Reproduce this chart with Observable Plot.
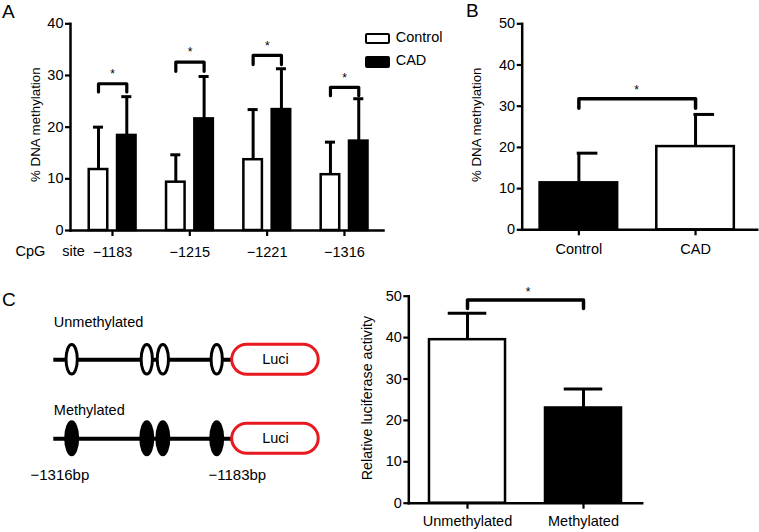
<!DOCTYPE html>
<html><head><meta charset="utf-8">
<script src="https://cdn.jsdelivr.net/npm/d3@7"></script>
<script src="https://cdn.jsdelivr.net/npm/@observablehq/plot@0.6"></script>
<style>
body{margin:0;background:#fff;}
#fig{position:relative;width:759px;height:532px;overflow:hidden;background:#fff;font-family:"Liberation Sans",Arial,Helvetica,sans-serif;color:#000;}
.panel{position:absolute;}
.panel svg{overflow:visible;background:transparent;}
.panel svg [aria-label*="axis"] path,.panel svg [aria-label*="axis"] line{stroke-width:2.2px;}
.panel svg line[aria-label="frame"]{stroke-width:2.5px;}
.lbl{position:absolute;line-height:1;white-space:pre;}
.sw{position:absolute;box-sizing:border-box;border:2.5px solid #000;border-radius:2px;}
</style></head><body><div id="fig"></div>
<script>
// ---------- Panel A data ----------
const sitesA = ["−1183", "−1215", "−1221", "−1316"];
const groupsA = ["Control", "CAD"];
const controlMeanA = [11.8, 9.35, 13.7, 10.8];
const controlErrA = [20.0, 14.65, 23.4, 17.1];
const cadMeanA = [18.4, 21.6, 23.4, 17.3];
const cadErrA = [25.9, 29.8, 31.3, 25.5];
const bracketTopA = [28.4, 32.6, 33.9, 27.7];
const bracketLegA = [26.8, 30.8, 32.1, 26.1];
const yTicksA = [0, 10, 20, 30, 40];

// ---------- Panel B data ----------
const groupsB = ["Control", "CAD"];
const meanB = [11.4, 20.2];
const errB = [18.6, 28.0];
const bracketTopB = [31.8];
const bracketLegB = [29.5];
const yTicksB = [0, 10, 20, 30, 40, 50];

// ---------- Panel C data ----------
const groupsC = ["Unmethylated", "Methylated"];
const meanC = [39.5, 23.0];
const errC = [45.9, 27.6];
const bracketTopC = [49.1];
const bracketLegC = [47.0];
const yTicksC = [0, 10, 20, 30, 40, 50];

// ---------- Panel C construct schematic ----------
const constructs = ["Unmethylated", "Methylated"];
const cpgMapPos = [10.3, 52.4, 61.4, 91.6];   // schematic map units along the promoter backbone (0–100)
const luciSpan = [100, 148.5];
const bpLabels = ["−1316bp", "−1183bp"];

const FONT = '"Liberation Sans", Arial, Helvetica, sans-serif';
const fig = document.getElementById("fig");
function place(el, left, top) {
  const d = document.createElement("div");
  d.className = "panel";
  d.style.left = left + "px"; d.style.top = top + "px";
  d.append(el); fig.append(d);
}
function label(text, left, top, size, extra) {
  const d = document.createElement("div");
  d.className = "lbl"; d.textContent = text;
  d.style.left = left + "px"; d.style.top = top + "px"; d.style.fontSize = size + "px";
  if (extra) Object.assign(d.style, extra);
  fig.append(d);
}
const baseStyle = {fontFamily: FONT, fontSize: "14.5px", background: "transparent", overflow: "visible", color: "black"};

// ================= Panel A =================
{
  const ctrOff = {Control: -0.181, CAD: 0.185};
  const barHalf = 0.136, capHalf = 0.065;
  const rows = sitesA.flatMap((s, i) => [
    {site: s, i, group: "Control", mean: controlMeanA[i], err: controlErrA[i]},
    {site: s, i, group: "CAD", mean: cadMeanA[i], err: cadErrA[i]}
  ]);
  const cx = d => d.i + ctrOff[d.group];
  const brackets = sitesA.flatMap((s, i) => [
    {site: s, x: i + ctrOff.Control, y: bracketLegA[i]},
    {site: s, x: i + ctrOff.Control, y: bracketTopA[i]},
    {site: s, x: i + ctrOff.CAD, y: bracketTopA[i]},
    {site: s, x: i + ctrOff.CAD, y: bracketLegA[i]}
  ]);
  const stars = sitesA.map((s, i) => ({x: i + (ctrOff.Control + ctrOff.CAD) / 2, y: bracketTopA[i]}));
  const p = Plot.plot({
    width: 385, height: 270,
    marginLeft: 70, marginRight: 2, marginTop: 23.3, marginBottom: 40,
    style: baseStyle,
    x: {domain: [-0.543, 3.505], ticks: [0, 1, 2, 3], tickFormat: i => sitesA[i], tickSize: 6, tickPadding: 10, line: true, label: null},
    y: {domain: [0, 40], ticks: yTicksA, tickSize: 5, tickPadding: 2, line: true, label: null},
    marks: [
      Plot.ruleX(rows, {x: cx, y1: "mean", y2: "err", strokeWidth: 3}),
      Plot.ruleY(rows, {y: "err", x1: d => cx(d) - capHalf, x2: d => cx(d) + capHalf, strokeWidth: 3}),
      Plot.rect(rows.filter(d => d.group === "Control"), {x1: d => cx(d) - barHalf, x2: d => cx(d) + barHalf, y1: 0, y2: "mean", fill: "white", stroke: "black", strokeWidth: 2.5, insetLeft: 1.25, insetRight: 1.25}),
      Plot.rect(rows.filter(d => d.group === "CAD"), {x1: d => cx(d) - barHalf, x2: d => cx(d) + barHalf, y1: 0, y2: "mean", fill: "black", stroke: "black", strokeWidth: 2.5, insetLeft: 1.25, insetRight: 1.25}),
      Plot.line(brackets, {x: "x", y: "y", z: "site", strokeWidth: 3.2}),
      Plot.text(stars, {x: "x", y: "y", text: () => "*", fontSize: 12, dy: -9.5}),
      Plot.text(["% DNA methylation"], {frameAnchor: "left", textAnchor: "middle", lineAnchor: "middle", rotate: -90, dx: -34.5, dy: -2.5, text: d => d, fontSize: 13.3}),
      Plot.text(["CpG"], {frameAnchor: "bottom-left", textAnchor: "start", lineAnchor: "middle", dx: -55, dy: 21, text: d => d}),
      Plot.text(["site"], {frameAnchor: "bottom-left", textAnchor: "start", lineAnchor: "middle", dx: -8.3, dy: 21, text: d => d})
    ]
  });
  place(p, 0, 0);
}

// ================= Panel B =================
{
  const rows = groupsB.map((g, i) => ({group: g, mean: meanB[i], err: errB[i]}));
  const bracket = [
    {x: groupsB[0], y: bracketLegB[0]}, {x: groupsB[0], y: bracketTopB[0]},
    {x: groupsB[1], y: bracketTopB[0]}, {x: groupsB[1], y: bracketLegB[0]}
  ];
  const p = Plot.plot({
    width: 319, height: 270,
    marginLeft: 81.7, marginRight: 2.3, marginTop: 23.3, marginBottom: 40.7,
    style: baseStyle,
    x: {type: "band", domain: groupsB, paddingInner: 0.314, paddingOuter: 0.164, align: 0.435, round: false, tickSize: 6, tickPadding: 8, line: true, label: null},
    y: {domain: [0, 50], ticks: yTicksB, tickSize: 5, tickPadding: 2, line: true, label: null},
    marks: [
      Plot.ruleX(rows, {x: "group", y1: "mean", y2: "err", strokeWidth: 3}),
      Plot.tickY(rows, {x: "group", y: "err", strokeWidth: 3, insetLeft: 38.4, insetRight: 21}),
      Plot.barY(rows.filter(d => d.group === "Control"), {x: "group", y: "mean", fill: "black", stroke: "black", strokeWidth: 2.5, insetLeft: 1.25, insetRight: 1.25}),
      Plot.barY(rows.filter(d => d.group === "CAD"), {x: "group", y: "mean", fill: "white", stroke: "black", strokeWidth: 2.5, insetLeft: 1.25, insetRight: 1.25}),
      Plot.line(bracket, {x: "x", y: "y", strokeWidth: 3.5}),
      Plot.text([bracketTopB[0]], {frameAnchor: "left", textAnchor: "middle", lineAnchor: "middle", dx: 114.5, y: d => d, text: () => "*", fontSize: 12, dy: -8.5}),
      Plot.text(["% DNA methylation"], {frameAnchor: "left", textAnchor: "middle", lineAnchor: "middle", rotate: -90, dx: -45.7, dy: -2, text: d => d, fontSize: 13.3})
    ]
  });
  place(p, 440, 0);
}

// ================= Panel C (bar chart) =================
{
  const rows = groupsC.map((g, i) => ({group: g, mean: meanC[i], err: errC[i]}));
  const bracket = [
    {x: groupsC[0], y: bracketLegC[0]}, {x: groupsC[0], y: bracketTopC[0]},
    {x: groupsC[1], y: bracketTopC[0]}, {x: groupsC[1], y: bracketLegC[0]}
  ];
  const p = Plot.plot({
    width: 300, height: 262,
    marginLeft: 58.3, marginRight: 8.3, marginTop: 25.7, marginBottom: 29.3,
    style: baseStyle,
    x: {type: "band", domain: groupsC, paddingInner: 0.323, paddingOuter: 0.1675, align: 0.5, round: false, tickSize: 6, tickPadding: 7, line: true, label: null},
    y: {domain: [0, 50], ticks: yTicksC, tickSize: 5, tickPadding: 2, line: true, label: null},
    marks: [
      Plot.ruleX(rows, {x: "group", y1: "mean", y2: "err", strokeWidth: 3}),
      Plot.tickY(rows, {x: "group", y: "err", strokeWidth: 3, insetLeft: 20, insetRight: 20}),
      Plot.barY(rows.filter(d => d.group === "Unmethylated"), {x: "group", y: "mean", fill: "white", stroke: "black", strokeWidth: 2.5, insetLeft: 1.25, insetRight: 1.25}),
      Plot.barY(rows.filter(d => d.group === "Methylated"), {x: "group", y: "mean", fill: "black", stroke: "black", strokeWidth: 2.5, insetLeft: 1.25, insetRight: 1.25}),
      Plot.line(bracket, {x: "x", y: "y", strokeWidth: 3.5}),
      Plot.text([bracketTopC[0]], {frameAnchor: "left", textAnchor: "middle", lineAnchor: "middle", dx: 119.4, y: d => d, text: () => "*", fontSize: 12, dy: -7.5}),
      Plot.text(["Relative luciferase activity"], {frameAnchor: "left", textAnchor: "middle", lineAnchor: "middle", rotate: -90, dx: -41.6, dy: -1.7, text: d => d, fontSize: 14.3})
    ]
  });
  place(p, 350, 270);
}

// ================= Panel C (construct schematic) =================
{
  const sites = constructs.flatMap(c => cpgMapPos.map((pos, j) => ({construct: c, pos, j})));
  const p = Plot.plot({
    width: 350, height: 242,
    marginLeft: 53.3, marginRight: 29.1, marginTop: 29.8, marginBottom: 54.2,
    style: baseStyle,
    x: {domain: [0, 150], axis: null},
    y: {type: "band", domain: constructs, paddingInner: 0.57, paddingOuter: 0.285, round: false, axis: null},
    marks: [
      Plot.ruleY(constructs, {y: d => d, x1: 0, x2: luciSpan[0], strokeWidth: 4}),
      Plot.barX(sites.filter(d => d.construct === "Unmethylated"), {x1: "pos", x2: "pos", y: "construct", fill: "white", stroke: "black", strokeWidth: 3, insetLeft: -5.65, insetRight: -5.65, insetTop: 2.2, insetBottom: 2.2, rx: 5.65, ry: 14.8}),
      Plot.barX(sites.filter(d => d.construct === "Methylated"), {x1: "pos", x2: "pos", y: "construct", fill: "black", insetLeft: -7.5, insetRight: -7.5, insetTop: -1, insetBottom: -1, rx: 7.5, ry: 18}),
      Plot.barX(constructs, {x1: luciSpan[0], x2: luciSpan[1], y: d => d, fill: "white", stroke: "#e8191f", strokeWidth: 3, insetTop: 2, insetBottom: 2, rx: 15, ry: 15}),
      Plot.text(constructs, {x: (luciSpan[0] + luciSpan[1]) / 2, y: d => d, text: () => "Luci", fontSize: 14.5}),
      Plot.text(["Unmethylated"], {x: 0, y: d => d, text: d => d, textAnchor: "start", dy: -37.2, fontSize: 14.5}),
      Plot.text(["Methylated"], {x: 0, y: d => d, text: d => d, textAnchor: "start", dy: -28.9, fontSize: 14.5}),
      Plot.text([{c: "Methylated", pos: cpgMapPos[0], t: bpLabels[0]}], {x: "pos", y: "c", text: "t", textAnchor: "start", dx: -41.7, dy: 35.9, fontSize: 15}),
      Plot.text([{c: "Methylated", pos: cpgMapPos[3], t: bpLabels[1]}], {x: "pos", y: "c", text: "t", textAnchor: "start", dx: -8.7, dy: 35.9, fontSize: 15})
    ]
  });
  place(p, 0, 290);
}

// ================= Panel letters & legend =================
label("A", 2, 2.2, 19);
label("B", 466, 1.4, 19);
label("C", 2, 290, 19);
{
  const s1 = document.createElement("div"); s1.className = "sw";
  Object.assign(s1.style, {left: "365px", top: "32.7px", width: "25px", height: "11.3px", background: "#fff"});
  const s2 = document.createElement("div"); s2.className = "sw";
  Object.assign(s2.style, {left: "365px", top: "56px", width: "25px", height: "12.3px", background: "#000"});
  fig.append(s1, s2);
  label(groupsA[0], 395.7, 30.4, 14.5);
  label(groupsA[1], 395.7, 53.4, 14.5);
}
</script></body></html>
